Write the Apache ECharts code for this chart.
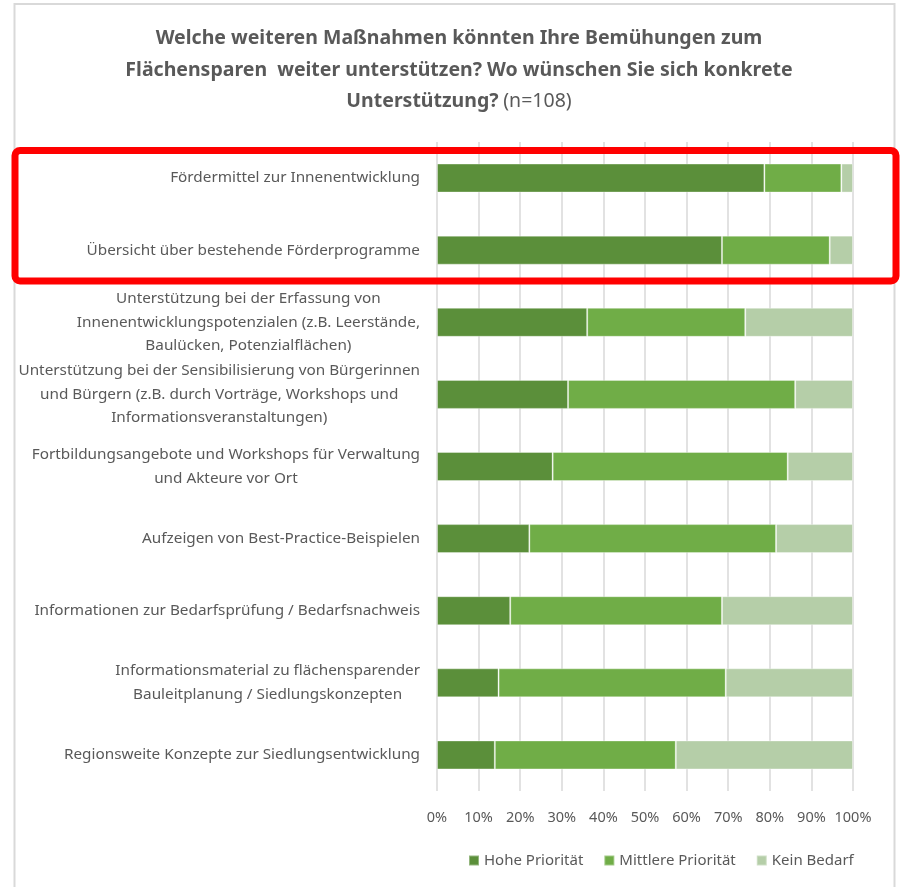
<!DOCTYPE html>
<html>
<head>
<meta charset="utf-8">
<script src="https://cdn.jsdelivr.net/npm/echarts@6/dist/echarts.min.js"></script>
<style>
  html, body { margin: 0; padding: 0; background: #fff; }
  #chart { width: 901px; height: 887px; }
</style>
</head>
<body>
<div id="chart"></div>
<script>
const categories = [
  'Fördermittel zur Innenentwicklung',
  'Übersicht über bestehende Förderprogramme',
  'Unterstützung bei der Erfassung von\nInnenentwicklungspotenzialen (z.B. Leerstände,\nBaulücken, Potenzialflächen)',
  'Unterstützung bei der Sensibilisierung von Bürgerinnen\nund Bürgern (z.B. durch Vorträge, Workshops und\nInformationsveranstaltungen)',
  'Fortbildungsangebote und Workshops für Verwaltung\nund Akteure vor Ort',
  'Aufzeigen von Best-Practice-Beispielen',
  'Informationen zur Bedarfsprüfung / Bedarfsnachweis',
  'Informationsmaterial zu flächensparender\nBauleitplanung / Siedlungskonzepten',
  'Regionsweite Konzepte zur Siedlungsentwicklung'
];
const seriesNames = ['Hohe Priorität', 'Mittlere Priorität', 'Kein Bedarf'];
const hohe = [78.7, 68.5, 36.1, 31.5, 27.8, 22.2, 17.6, 14.8, 13.9];
const mittlere = [18.5, 25.9, 38.0, 54.6, 56.5, 59.3, 50.9, 54.6, 43.5];
const kein = [2.8, 5.6, 25.9, 13.9, 15.7, 18.5, 31.5, 30.6, 42.6];
const xTicks = [0, 10, 20, 30, 40, 50, 60, 70, 80, 90, 100];

const colors = ['#5B8F3A', '#70AD47', '#B5CEA8'];
const textColor = '#595959';
const font = 'Noto Sans';

const chart = echarts.init(document.getElementById('chart'));

const makeSeries = (name, data, i) => ({
  name,
  type: 'bar',
  stack: 'total',
  data,
  barWidth: 29,
  itemStyle: { color: colors[i], borderColor: 'rgba(255,255,255,0.35)', borderWidth: 1 },
  emphasis: { disabled: true }
});

chart.setOption({
  animation: false,
  textStyle: { fontFamily: font },
  title: {
    text: '{b|Welche weiteren Maßnahmen könnten Ihre Bemühungen zum}\n' +
      '{b|Flächensparen  weiter unterstützen? Wo wünschen Sie sich konkrete}\n' +
      '{b|Unterstützung?} {n|(n=108)}',
    left: 454,
    top: 18,
    textAlign: 'center',
    textStyle: {
      rich: {
        b: { fontFamily: font, fontSize: 19.5, fontWeight: 'bold', color: textColor, lineHeight: 31.5 },
        n: { fontFamily: font, fontSize: 19.5, fontWeight: 'normal', color: textColor, lineHeight: 31.5 }
      }
    }
  },
  legend: {
    data: seriesNames,
    left: 463,
    top: 848,
    itemWidth: 10,
    itemHeight: 10,
    itemGap: 20,
    icon: 'rect',
    textStyle: { color: textColor, fontSize: 15, fontFamily: font }
  },
  grid: { left: 437, right: 48, top: 142, bottom: 96, containLabel: false },
  xAxis: {
    type: 'value',
    min: xTicks[0],
    max: xTicks[xTicks.length - 1],
    interval: 10,
    axisLine: { show: false },
    axisTick: { show: false },
    splitLine: { lineStyle: { color: '#D9D9D9', width: 1.5 } },
    axisLabel: { color: textColor, fontSize: 14.5, fontFamily: font, margin: 19, formatter: '{value}%' }
  },
  yAxis: {
    type: 'category',
    inverse: true,
    data: categories,
    axisLine: { show: false },
    axisTick: { show: false },
    axisLabel: {
      align: 'right',
      margin: 17,
      formatter: (v) => v.split('\n').map((l) => '{c|' + l + '}').join('\n'),
      rich: {
        c: { align: 'center', color: textColor, fontSize: 15.3, fontFamily: font, lineHeight: 23.5 }
      }
    }
  },
  series: [
    makeSeries(seriesNames[0], hohe, 0),
    makeSeries(seriesNames[1], mittlere, 1),
    makeSeries(seriesNames[2], kein, 2)
  ],
  graphic: [
    {
      type: 'rect',
      shape: { x: 14.5, y: 4, width: 880, height: 900 },
      style: { fill: 'none', stroke: '#D9D9D9', lineWidth: 2 },
      silent: true,
      z: -1
    },
    {
      type: 'rect',
      shape: { x: 15, y: 150.5, width: 881, height: 130.5, r: 5 },
      style: { fill: 'none', stroke: '#FF0000', lineWidth: 7 },
      silent: true,
      z: 100
    }
  ]
});
</script>
</body>
</html>
